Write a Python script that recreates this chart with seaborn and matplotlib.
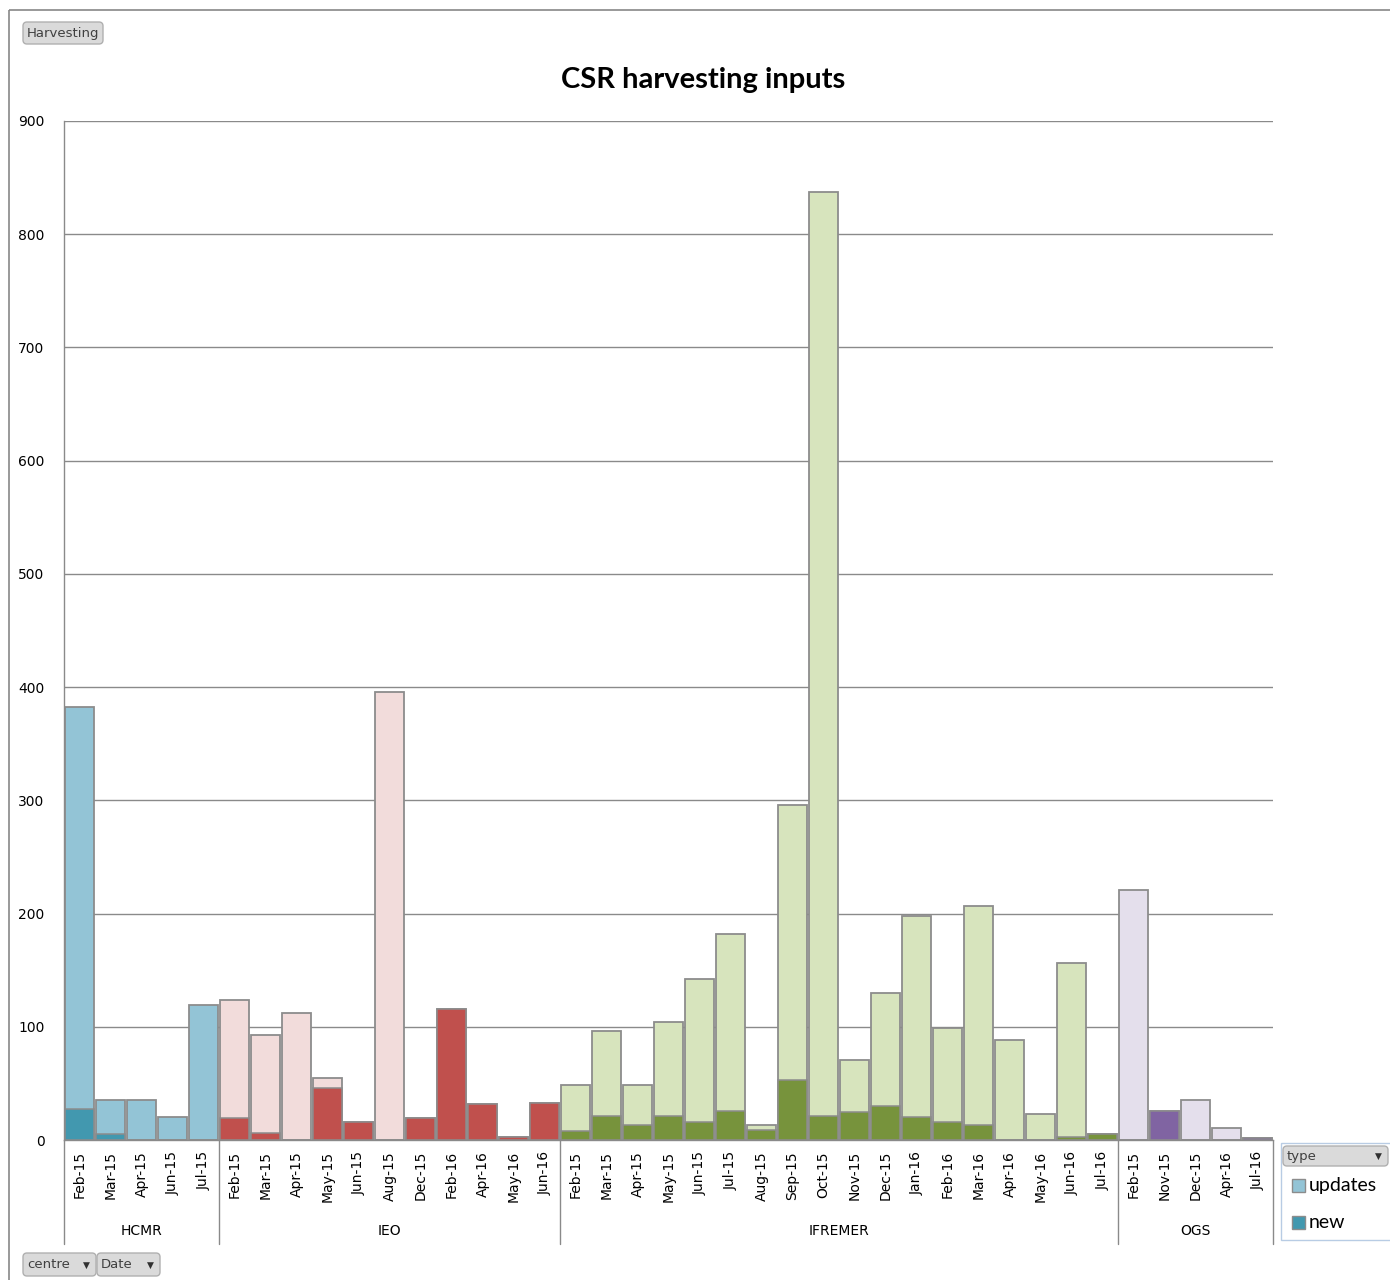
import matplotlib.pyplot as plt
import pandas as pd
import seaborn as sns
from matplotlib.patches import FancyBboxPatch, Rectangle
from matplotlib.transforms import blended_transform_factory

# Data (counts per month, per centre)
centres = ['HCMR', 'IEO', 'IFREMER', 'OGS']

hcmr_months = ['Feb-15', 'Mar-15', 'Apr-15', 'Jun-15', 'Jul-15']
hcmr_new = [27, 5, 0, 0, 0]
hcmr_updates = [355, 30, 35, 20, 119]

ieo_months = ['Feb-15', 'Mar-15', 'Apr-15', 'May-15', 'Jun-15', 'Aug-15',
              'Dec-15', 'Feb-16', 'Apr-16', 'May-16', 'Jun-16']
ieo_new = [19, 6, 0, 46, 16, 0, 19, 116, 32, 3, 33]
ieo_updates = [105, 87, 112, 9, 0, 396, 0, 0, 0, 0, 0]

ifremer_months = ['Feb-15', 'Mar-15', 'Apr-15', 'May-15', 'Jun-15', 'Jul-15',
                  'Aug-15', 'Sep-15', 'Oct-15', 'Nov-15', 'Dec-15', 'Jan-16',
                  'Feb-16', 'Mar-16', 'Apr-16', 'May-16', 'Jun-16', 'Jul-16']
ifremer_new = [8, 21, 13, 21, 16, 26, 9, 53, 21, 25, 30, 20, 16, 13, 0, 0, 3, 5]
ifremer_updates = [41, 75, 36, 83, 126, 156, 4, 243, 816, 46, 100, 178, 83,
                   194, 88, 23, 153, 0]

ogs_months = ['Feb-15', 'Nov-15', 'Dec-15', 'Apr-16', 'Jul-16']
ogs_new = [0, 26, 0, 0, 2]
ogs_updates = [221, 0, 35, 11, 0]

light = {'HCMR': '#93C4D6', 'IEO': '#F2DCDB', 'IFREMER': '#D7E4BD', 'OGS': '#E4DFEC'}
dark = {'HCMR': '#4298AF', 'IEO': '#C0504D', 'IFREMER': '#77933C', 'OGS': '#8064A2'}
edge = '#8C8C8C'
line = '#8A8A8A'

sns.set_theme(style='white')
plt.rcParams['font.family'] = ['DejaVu Sans']
plt.rcParams['text.color'] = 'black'

frames = []
for centre, months, new, updates in [('HCMR', hcmr_months, hcmr_new, hcmr_updates),
                                     ('IEO', ieo_months, ieo_new, ieo_updates),
                                     ('IFREMER', ifremer_months, ifremer_new, ifremer_updates),
                                     ('OGS', ogs_months, ogs_new, ogs_updates)]:
    frames.append(pd.DataFrame({'centre': centre, 'month': months,
                                'new': new, 'updates': updates}))
df = pd.concat(frames, ignore_index=True)
df['total'] = df['new'] + df['updates']
df['pos'] = df.index.astype(str)

W, H = 1390, 1280
fig = plt.figure(figsize=(W / 100, H / 100), dpi=100)
ax = fig.add_axes([64 / W, 1 - 1140 / H, (1273 - 64) / W, (1140 - 121) / H])

# updates stacked on new: draw the total first, then the "new" part over it
sns.barplot(data=df, x='pos', y='total', hue='centre', palette=light, order=list(df['pos']),
            dodge=False, width=0.95, saturation=1, errorbar=None, edgecolor=edge,
            linewidth=1.3, legend=False, ax=ax)
sns.barplot(data=df, x='pos', y='new', hue='centre', palette=dark, order=list(df['pos']),
            dodge=False, width=0.95, saturation=1, errorbar=None, edgecolor=edge,
            linewidth=1.1, legend=False, ax=ax)

ax.set_xlim(-0.5, len(df) - 0.5)
ax.set_ylim(0, 900)
ax.set_yticks(range(0, 901, 100))
ax.set_xticks(range(len(df)))
ax.set_xticklabels(df['month'], rotation=90)
ax.set_xlabel('')
ax.set_ylabel('')
ax.grid(axis='y', color=line, linewidth=1)
ax.set_axisbelow(True)
for side in ['top', 'right']:
    ax.spines[side].set_visible(False)
for side in ['left', 'bottom']:
    ax.spines[side].set_color(line)
    ax.spines[side].set_linewidth(1)
ax.tick_params(axis='y', length=0, pad=14, labelsize=10, colors='black')
ax.tick_params(axis='x', length=0, pad=8, labelsize=10, colors='black')

# centre grouping under the month labels
trans = blended_transform_factory(ax.transData, ax.transAxes)
bounds = [-0.5]
for months in [hcmr_months, ieo_months, ifremer_months, ogs_months]:
    bounds.append(bounds[-1] + len(months))
for b in bounds:
    ax.plot([b, b], [0, -0.102], transform=trans, color=line, lw=1, clip_on=False)
for i, c in enumerate(centres):
    ax.text((bounds[i] + bounds[i + 1]) / 2, -0.089, c, transform=trans,
            ha='center', va='center', fontsize=10, color='black')

# overlay in pixel coordinates for the pivot-chart chrome
ov = fig.add_axes([0, 0, 1, 1], zorder=5)
ov.set_xlim(0, W)
ov.set_ylim(H, 0)
ov.axis('off')
ov.patch.set_alpha(0)

ov.add_patch(Rectangle((9, 10), W, H, fill=False, edgecolor='#888888', lw=1.2))


def button(x0, y0, x1, y1, label, arrow=False, fs=9.5):
    ov.add_patch(FancyBboxPatch((x0, y0), x1 - x0, y1 - y0,
                                boxstyle='round,pad=0,rounding_size=4',
                                facecolor='#DADADA', edgecolor='#B0B0B0', lw=1))
    ov.text(x0 + 4, (y0 + y1) / 2 + 0.5, label, ha='left', va='center',
            fontsize=fs, color='#404040')
    if arrow:
        ov.text(x1 - 6, (y0 + y1) / 2 + 0.5, '\u25BC', ha='right', va='center',
                fontsize=6.5, color='#303030')


button(23, 22, 103, 44, 'Harvesting')
button(23, 1253, 96, 1276, 'centre', arrow=True)
button(97, 1253, 160, 1276, 'Date', arrow=True)

fig.text(703 / W, 1 - 80 / H, 'CSR harvesting inputs', ha='center', va='center',
         fontsize=21, fontweight='bold', family=['Lato', 'DejaVu Sans'], color='black')

# legend box
ov.add_patch(Rectangle((1281, 1143), 115, 97, facecolor='white', edgecolor='#B8CCE4', lw=1))
button(1283, 1146, 1388, 1166, 'type', arrow=True)
for y, lab, col in [(1186, 'updates', light['HCMR']), (1223, 'new', dark['HCMR'])]:
    ov.add_patch(Rectangle((1292, y - 7), 13, 13, facecolor=col, edgecolor=edge, lw=1))
    ov.text(1309, y, lab, ha='left', va='center', fontsize=14,
            family=['Lato', 'DejaVu Sans'], color='black')

fig.savefig('out.png', dpi=100)
